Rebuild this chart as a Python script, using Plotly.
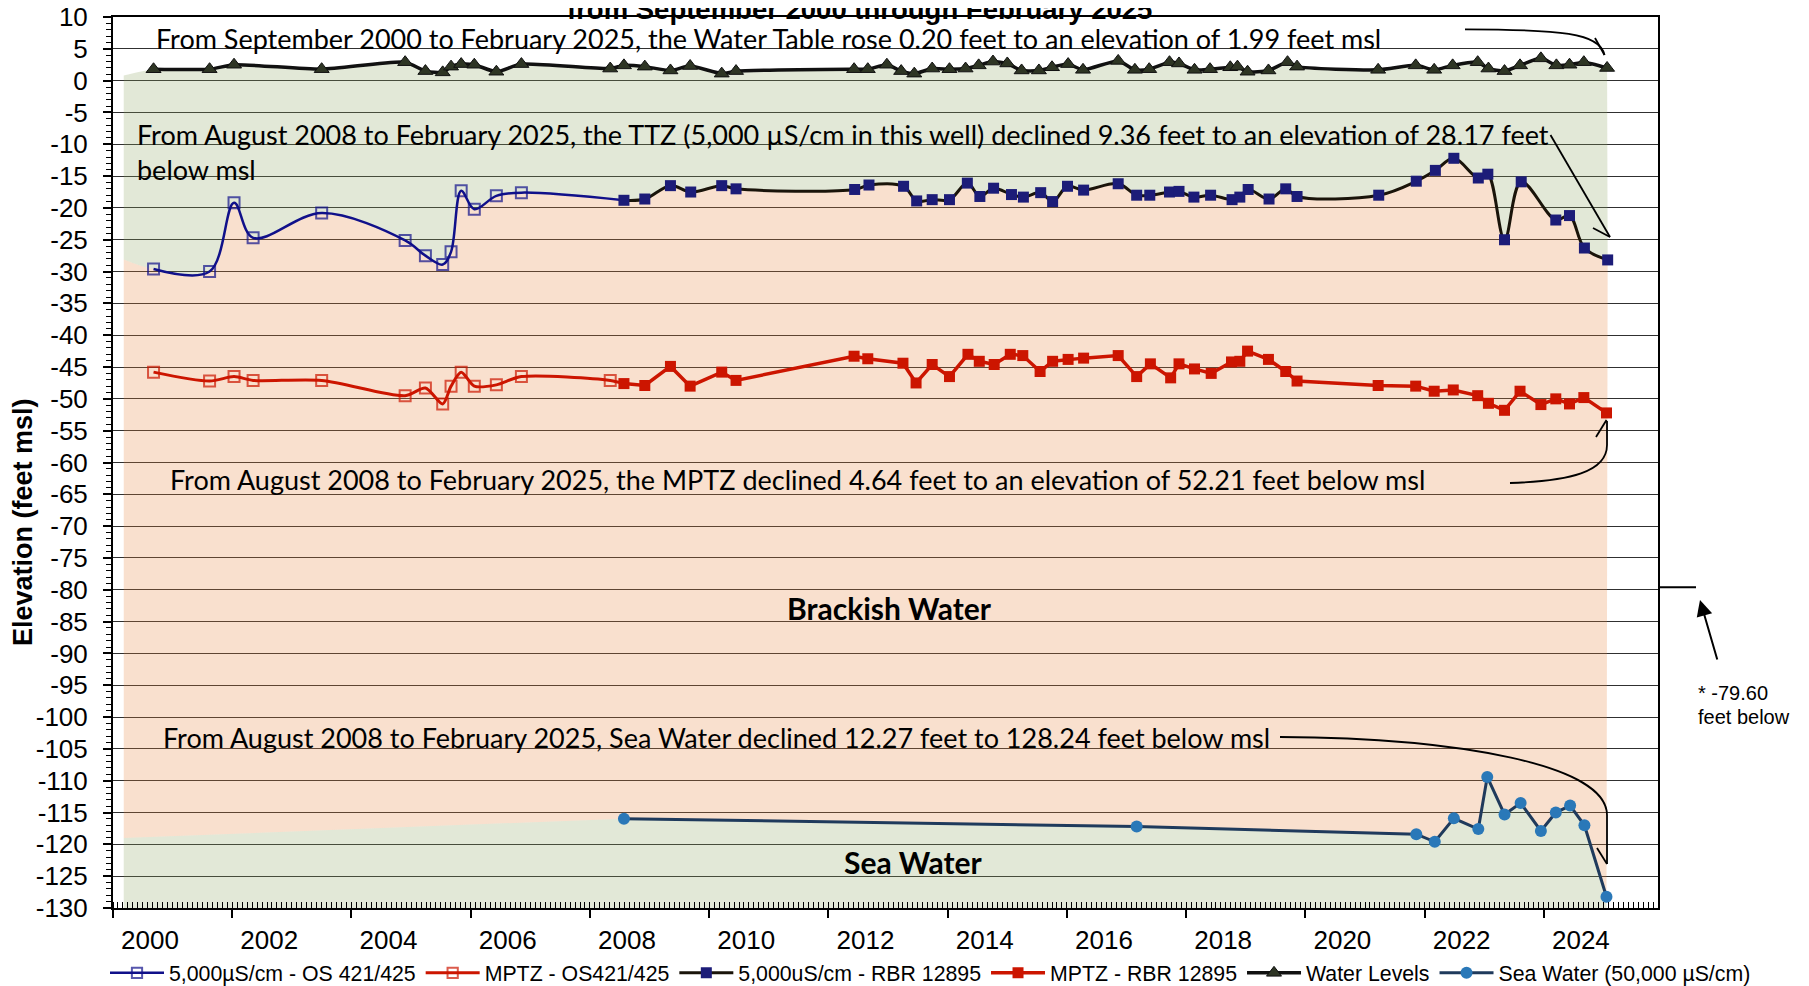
import plotly.graph_objects as go

# ---------------- data (decimal years / feet msl) ----------------
wl_x = [2000.68, 2001.62, 2002.03, 2003.50, 2004.90, 2005.24, 2005.53, 2005.67, 2005.84, 2006.06,
        2006.43, 2006.85, 2008.34, 2008.57, 2008.92, 2009.35, 2009.68, 2010.21, 2010.45, 2012.43,
        2012.66, 2012.98, 2013.22, 2013.44, 2013.74, 2014.03, 2014.30, 2014.52, 2014.76, 2015.00,
        2015.24, 2015.53, 2015.75, 2016.02, 2016.27, 2016.86, 2017.14, 2017.38, 2017.72, 2017.88,
        2018.14, 2018.40, 2018.74, 2018.86, 2019.03, 2019.38, 2019.70, 2019.86, 2021.22, 2021.85,
        2022.16, 2022.47, 2022.89, 2023.07, 2023.34, 2023.60, 2023.95, 2024.21, 2024.43, 2024.67,
        2025.06]
wl_y = [1.79, 1.80, 2.50, 1.80, 2.90, 1.50, 1.30, 2.20, 2.60, 2.50,
        1.40, 2.60, 1.90, 2.40, 2.20, 1.60, 2.30, 1.10, 1.50, 1.80,
        1.80, 2.50, 1.50, 1.10, 1.90, 1.80, 1.90, 2.40, 3.00, 2.70,
        1.60, 1.60, 2.10, 2.60, 1.70, 3.10, 1.70, 1.80, 2.90, 2.70,
        1.70, 1.80, 2.10, 2.20, 1.40, 1.60, 2.90, 2.20, 1.70, 2.40,
        1.70, 2.40, 2.90, 1.90, 1.50, 2.40, 3.50, 2.40, 2.50, 2.90,
        1.99]

ttz_os_x = [2000.68, 2001.62, 2002.03, 2002.35, 2003.50, 2004.90, 2005.24, 2005.53, 2005.67,
            2005.84, 2006.06, 2006.43, 2006.85, 2008.57]
ttz_os_y = [-29.6, -30.0, -19.2, -24.7, -20.8, -25.1, -27.5, -28.9, -26.9,
            -17.3, -20.2, -18.1, -17.6, -18.8]

mptz_os_x = [2000.68, 2001.62, 2002.03, 2002.35, 2003.50, 2004.90, 2005.24, 2005.53, 2005.67,
             2005.84, 2006.06, 2006.43, 2006.85, 2008.34, 2008.57]
mptz_os_y = [-45.8, -47.2, -46.5, -47.1, -47.1, -49.5, -48.3, -50.8, -48.0,
             -45.8, -48.0, -47.8, -46.5, -47.1, -47.6]

ttz_x = [2008.57, 2008.92, 2009.35, 2009.69, 2010.21, 2010.45, 2012.44, 2012.68, 2013.26, 2013.48,
         2013.74, 2014.03, 2014.33, 2014.54, 2014.77, 2015.07, 2015.27, 2015.56, 2015.76, 2016.01,
         2016.28, 2016.86, 2017.17, 2017.39, 2017.72, 2017.88, 2018.13, 2018.41, 2018.77, 2018.90,
         2019.04, 2019.39, 2019.67, 2019.86, 2021.23, 2021.86, 2022.18, 2022.49, 2022.90, 2023.06,
         2023.34, 2023.62, 2024.20, 2024.43, 2024.68, 2025.07]
ttz_y = [-18.8, -18.6, -16.5, -17.5, -16.5, -17.0, -17.1, -16.4, -16.6, -18.9,
         -18.7, -18.7, -16.1, -18.2, -16.9, -17.9, -18.3, -17.6, -19.0, -16.6,
         -17.2, -16.2, -18.0, -18.0, -17.5, -17.4, -18.3, -18.0, -18.7, -18.3,
         -17.1, -18.6, -17.0, -18.2, -18.0, -15.8, -14.1, -12.2, -15.3, -14.7,
         -25.0, -15.9, -21.9, -21.2, -26.3, -28.17]

mptz_x = [2008.57, 2008.92, 2009.35, 2009.68, 2010.21, 2010.45, 2012.43, 2012.66, 2013.25, 2013.47,
          2013.74, 2014.03, 2014.34, 2014.53, 2014.78, 2015.05, 2015.26, 2015.55, 2015.76, 2016.02,
          2016.28, 2016.86, 2017.17, 2017.40, 2017.74, 2017.88, 2018.14, 2018.42, 2018.76, 2018.90,
          2019.03, 2019.38, 2019.67, 2019.86, 2021.22, 2021.85, 2022.16, 2022.48, 2022.89, 2023.07,
          2023.34, 2023.60, 2023.95, 2024.20, 2024.43, 2024.67, 2025.05]
mptz_y = [-47.6, -47.9, -44.9, -48.0, -45.8, -47.1, -43.3, -43.7, -44.4, -47.5,
          -44.6, -46.5, -43.0, -44.1, -44.6, -43.0, -43.2, -45.7, -44.1, -43.8,
          -43.6, -43.2, -46.5, -44.5, -46.7, -44.5, -45.3, -46.0, -44.2, -44.1,
          -42.5, -43.8, -45.7, -47.2, -47.9, -48.0, -48.8, -48.6, -49.5, -50.7,
          -51.8, -48.8, -50.9, -50.0, -50.8, -49.8, -52.21]

sea_x = [2008.57, 2017.17, 2021.86, 2022.17, 2022.49, 2022.90, 2023.05, 2023.34, 2023.61,
         2023.95, 2024.20, 2024.44, 2024.68, 2025.05]
sea_y = [-115.97, -117.2, -118.4, -119.6, -115.9, -117.6, -109.4, -115.3, -113.5,
         -117.9, -115.0, -113.9, -117.0, -128.24]

# background bands (edges)
band_left_x = 2000.18
band_top_left = 0.8
band_ttz_left = -28.1
band_sea_left = -119.0
axis_min, axis_max = -130, 10
marker_79 = -79.60

year_ticks = list(range(2000, 2026, 2))
year_labels = [str(y) for y in year_ticks]
y_ticks = list(range(axis_min, axis_max + 1, 5))
y_labels = [str(v) for v in y_ticks]

series_names = ["5,000µS/cm - OS 421/425", "MPTZ - OS421/425", "5,000uS/cm - RBR 12895",
                "MPTZ - RBR 12895", "Water Levels", "Sea Water (50,000 µS/cm)"]

# ---------------- geometry / styles ----------------
OFF = 8                      # page body margin
W, H = 1801, 978
ML, MT = 105, 9
PW, PH = 1545, 891
MR, MB = W - ML - PW, H - MT - PH
PX_PER_YEAR = 59.62
XR = [2000.0, 2000.0 + PW / PX_PER_YEAR]

def P(xp, yp):
    """page pixel -> paper coordinates"""
    fx, fy = xp - OFF, yp - OFF
    return (fx - ML) / PW, (H - MB - fy) / PH

def path(cmds):
    out = []
    for c, pts in cmds:
        s = c
        for (xp, yp) in pts:
            px, py = P(xp, yp)
            s += f" {px:.5f},{py:.5f}"
        out.append(s)
    return " ".join(out)

ARIAL = "Liberation Sans, Arial, sans-serif"
NOTE = "Lato, Carlito, Calibri, sans-serif"
GREEN = "rgba(139,163,95,0.25)"
PEACH = "rgba(231,131,59,0.25)"
NAVY = "#10108a"
RED = "#cc1500"

fig = go.Figure()
nofill = dict(mode="lines", showlegend=False, hoverinfo="skip")

# top green band: water table -> TTZ
fig.add_trace(go.Scatter(x=[band_left_x] + wl_x, y=[band_top_left] + wl_y,
                         line=dict(width=0, shape="spline", smoothing=0.6), **nofill))
ttz_bx = [band_left_x] + ttz_os_x[:-1] + ttz_x
ttz_by = [band_ttz_left] + ttz_os_y[:-1] + ttz_y
fig.add_trace(go.Scatter(x=ttz_bx, y=ttz_by, fill="tonexty", fillcolor=GREEN,
                         line=dict(width=0, shape="spline", smoothing=1.0), **nofill))
# peach band: TTZ -> sea water
sea_bx = [band_left_x] + sea_x
sea_by = [band_sea_left] + sea_y
fig.add_trace(go.Scatter(x=sea_bx, y=sea_by, line=dict(width=0), **nofill))
fig.add_trace(go.Scatter(x=ttz_bx, y=ttz_by, fill="tonexty", fillcolor=PEACH,
                         line=dict(width=0, shape="spline", smoothing=1.0), **nofill))
# bottom green band: sea water -> axis bottom
fig.add_trace(go.Scatter(x=[band_left_x, sea_x[-1]], y=[axis_min, axis_min], line=dict(width=0), **nofill))
fig.add_trace(go.Scatter(x=sea_bx, y=sea_by, fill="tonexty", fillcolor=GREEN, line=dict(width=0), **nofill))

# data series
fig.add_trace(go.Scatter(x=ttz_os_x, y=ttz_os_y, name=series_names[0], mode="lines+markers",
                         line=dict(color=NAVY, width=2.5, shape="spline", smoothing=1.0),
                         marker=dict(symbol="square-open", size=[11] * (len(ttz_os_x) - 1) + [0],
                                     color=NAVY, line=dict(width=2))))
fig.add_trace(go.Scatter(x=mptz_os_x, y=mptz_os_y, name=series_names[1], mode="lines+markers",
                         line=dict(color=RED, width=3, shape="spline", smoothing=0.8),
                         marker=dict(symbol="square-open", size=[11] * (len(mptz_os_x) - 1) + [0],
                                     color=RED, line=dict(width=2))))
fig.add_trace(go.Scatter(x=ttz_x, y=ttz_y, name=series_names[2], mode="lines+markers",
                         line=dict(color="#1a140a", width=3, shape="spline", smoothing=1.0),
                         marker=dict(symbol="square", size=11, color="#1c1c78")))
fig.add_trace(go.Scatter(x=mptz_x, y=mptz_y, name=series_names[3], mode="lines+markers",
                         line=dict(color=RED, width=3.5),
                         marker=dict(symbol="square", size=11, color=RED)))
fig.add_trace(go.Scatter(x=wl_x, y=wl_y, name=series_names[4], mode="lines+markers",
                         line=dict(color="#111111", width=3.5, shape="spline", smoothing=0.6),
                         marker=dict(symbol="triangle-up", size=13, color="#2e3524",
                                     line=dict(color="#111111", width=1))))
fig.add_trace(go.Scatter(x=sea_x, y=sea_y, name=series_names[5], mode="lines+markers",
                         line=dict(color="#1f3a5c", width=3),
                         marker=dict(symbol="circle", size=12, color="#2a78b8")))

# ---------------- annotations ----------------
ann = []
def note(text, xp, yp, size=27, anchor="left", bold=False, font=NOTE):
    px, py = P(xp, yp)
    ann.append(dict(text=f"<b>{text}</b>" if bold else text, x=px, y=py, xref="paper", yref="paper",
                    xanchor=anchor, yanchor="middle", showarrow=False,
                    font=dict(family=font, size=size, color="black")))

note("From September 2000 to February 2025, the Water Table rose 0.20 feet to an elevation of 1.99 feet msl", 154, 38)
note("From August 2008 to February 2025, the TTZ (5,000 µS/cm in this well) declined 9.36 feet to an elevation of 28.17 feet", 134.5, 135)
note("below msl", 134.5, 169.5)
note("From August 2008 to February 2025, the MPTZ declined 4.64 feet to an elevation of 52.21 feet below msl", 168, 480)
note("Brackish Water", 889.5, 608, size=30, anchor="center", bold=True)
note("From August 2008 to February 2025, Sea Water declined 12.27 feet to 128.24 feet below msl", 160.5, 737)
note("Sea Water", 913.7, 862, size=30, anchor="center", bold=True)
note("* -79.60", 1696, 692.7, size=20, font=ARIAL)
note("feet below", 1696, 716.7, size=20, font=ARIAL)
note("from September 2000 through February 2025", 859, 9.5, size=27.5, anchor="center", bold=True, font=ARIAL)

px, py = P(23, 522)
ann.append(dict(text="<b>Elevation (feet msl)</b>", x=px, y=py, xref="paper", yref="paper",
                xanchor="center", yanchor="middle", showarrow=False, textangle=-90,
                font=dict(family=ARIAL, size=27, color="black")))

# filled arrow to the -79.60 tick
tx, ty = P(1700, 600)
ann.append(dict(text="", x=tx, y=ty, xref="paper", yref="paper", ax=17.7, ay=61,
                showarrow=True, arrowhead=2, arrowsize=1.6, arrowwidth=2, arrowcolor="black"))

shapes = []
def add_path(cmds, width=1.8):
    shapes.append(dict(type="path", xref="paper", yref="paper", path=path(cmds),
                       line=dict(color="black", width=width)))

# water table arrow
add_path([("M", [(1465, 29.3)]), ("C", [(1560, 29.5), (1600, 33), (1604.5, 55)])])
add_path([("M", [(1595, 38)]), ("L", [(1604.5, 55), (1612, 38)])])
# TTZ arrow
add_path([("M", [(1550.5, 135)]), ("L", [(1610, 237)])])
add_path([("M", [(1593, 228)]), ("L", [(1610, 237), (1610, 218)])])
# MPTZ arrow
add_path([("M", [(1510, 483)]), ("C", [(1570, 481), (1607, 472), (1607, 445)]), ("L", [(1607, 421)])])
add_path([("M", [(1596, 437)]), ("L", [(1606.5, 420), (1617, 438)])])
# sea water arrow
add_path([("M", [(1280, 737)]), ("C", [(1460, 738), (1607, 765), (1607, 815)]), ("L", [(1607, 864)])])
add_path([("M", [(1597, 848)]), ("L", [(1607, 864), (1618, 848)])])
# -79.60 tick mark outside the plot
y79 = (marker_79 - axis_min) / (axis_max - axis_min)
shapes.append(dict(type="line", xref="paper", yref="paper", x0=P(1660, 0)[0], x1=P(1696, 0)[0],
                   y0=y79, y1=y79, line=dict(color="black", width=1.8)))

lx, ly = P(1756, 973)
fig.update_layout(
    width=W, height=H, margin=dict(l=ML, r=MR, t=MT, b=MB, autoexpand=False),
    paper_bgcolor="white", plot_bgcolor="white",
    annotations=ann, shapes=shapes,
    legend=dict(orientation="h", x=lx, y=ly, xanchor="right", yanchor="middle",
                font=dict(family=ARIAL, size=21.3, color="black"), bgcolor="rgba(0,0,0,0)",
                traceorder="normal", itemwidth=54),
    xaxis=dict(range=XR, tickmode="array", tickvals=year_ticks, ticktext=year_labels,
               ticks="outside", ticklen=8, tickwidth=1.5, tickcolor="black",
               ticklabelshift=37, ticklabelstandoff=0, ticklabeloverflow="allow",
               tickfont=dict(family=ARIAL, size=26, color="black"),
               minor=dict(tickmode="linear", tick0=2000, dtick=1 / 12, ticks="inside",
                          ticklen=6, tickwidth=1, tickcolor="black", showgrid=False),
               showline=True, linecolor="black", linewidth=2, mirror=True,
               showgrid=False, zeroline=False, automargin=False),
    yaxis=dict(range=[axis_min, axis_max], tickmode="array", tickvals=y_ticks, ticktext=y_labels,
               ticks="outside", ticklen=8, tickwidth=1.5, tickcolor="black",
               ticklabelstandoff=10, ticklabeloverflow="allow",
               tickfont=dict(family=ARIAL, size=26, color="black"),
               minor=dict(tickmode="linear", tick0=axis_min, dtick=1, ticks="outside",
                          ticklen=5, tickwidth=1, tickcolor="black", showgrid=False),
               showline=True, linecolor="black", linewidth=2, mirror=True,
               showgrid=True, gridcolor="#303030", gridwidth=1, zeroline=False, automargin=False),
)

fig.write_html("out.html")
